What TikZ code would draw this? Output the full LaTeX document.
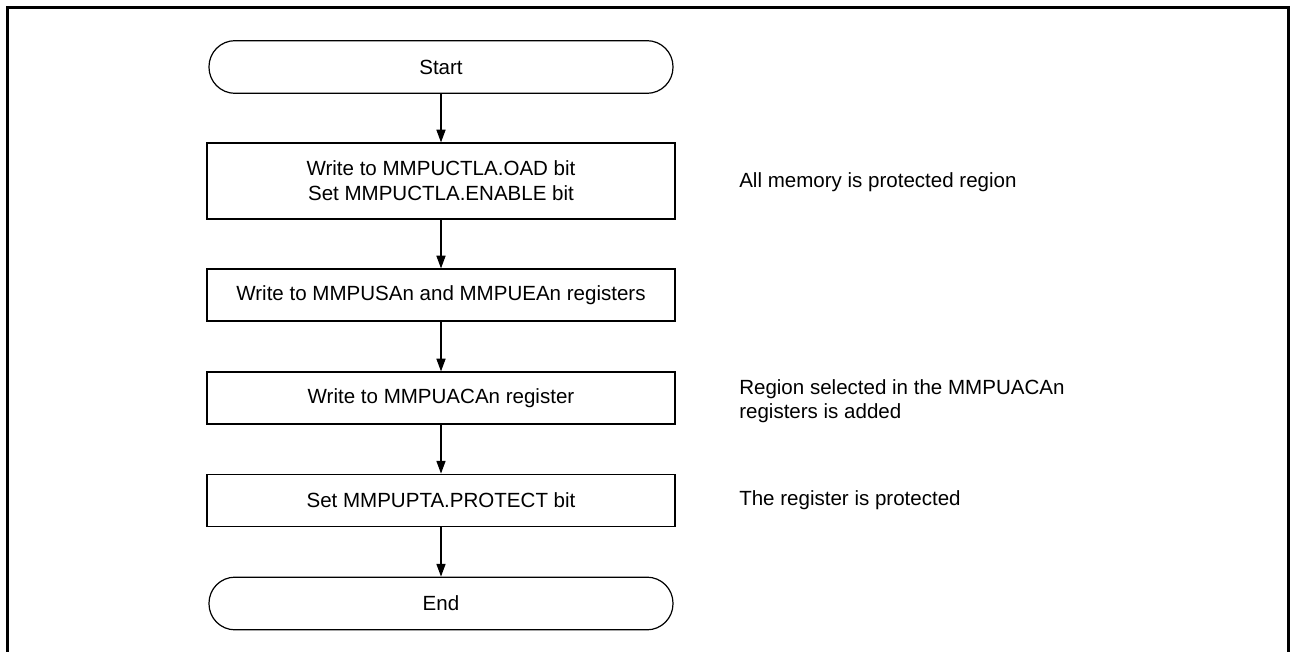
\documentclass[tikz,border=0pt]{standalone}
\usepackage{fontspec}
\setmainfont{Liberation Sans}
\usetikzlibrary{arrows.meta}
\begin{document}
\begin{tikzpicture}[x=0.75pt,y=-0.75pt,
  every node/.style={font=\fontsize{15.4}{18.75}\selectfont},
  procbox/.style={draw, line width=0.9pt, minimum width=351pt, inner sep=0pt, align=center},
  term/.style={draw, line width=0.9pt, minimum width=348pt, minimum height=39.5pt, rounded corners=19.5pt, inner sep=0pt},
  note/.style={anchor=west, align=left, inner sep=0pt, font=\fontsize{15.4}{18}\selectfont},
  flow/.style={line width=0.9pt, -{Triangle[length=9.5pt,width=6.8pt]}}]
\useasboundingbox (0,0) rectangle (1290,652);
\draw[line width=2.25pt] (7.5,652) -- (7.5,7.5) -- (1288.5,7.5) -- (1288.5,652);

\node[term] (start) at (441,67) {Start};
\node[procbox, minimum height=57pt] (b1) at (441,181) {Write to MMPUCTLA.OAD bit\\Set MMPUCTLA.ENABLE bit};
\node[procbox, minimum height=39pt] (b2) at (441,295) {Write to MMPUSAn and MMPUEAn registers};
\node[procbox, minimum height=39pt] (b3) at (441,398) {Write to MMPUACAn register};
\node[procbox, minimum height=39.5pt] (b4) at (441,500.5) {Set MMPUPTA.PROTECT bit};
\node[term] (end) at (441,603.5) {End};

\draw[flow] (start) -- (b1);
\draw[flow] (b1) -- (b2);
\draw[flow] (b2) -- (b3);
\draw[flow] (b3) -- (b4);
\draw[flow] (b4) -- (end);

\node[note] (n1) at (739,182) {All memory is protected region};
\node[note] (n3) at (739,401) {Region selected in the MMPUACAn\\registers is added};
\node[note] (n4) at (739,500) {The register is protected};
\end{tikzpicture}
\end{document}
